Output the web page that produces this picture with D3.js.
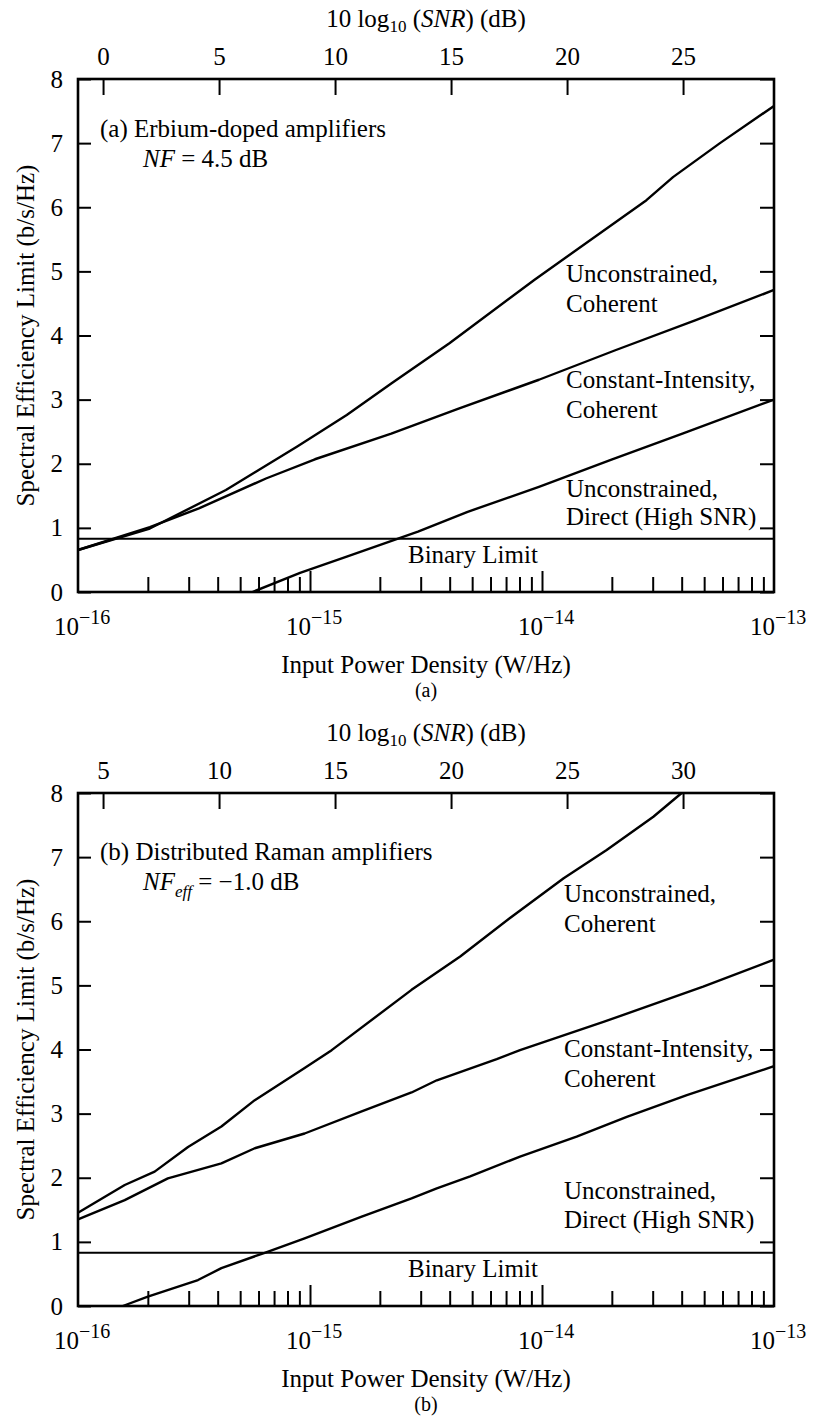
<!DOCTYPE html>
<html>
<head>
<meta charset="utf-8">
<script src="https://cdn.jsdelivr.net/npm/d3@7"></script>
<style>
  body { margin: 0; background: #fff; }
  text { font-family: "Liberation Serif", "Times New Roman", serif; fill: #000; }
</style>
</head>
<body>
<div id="chart"></div>
<script>
// ---- data: [input power density (W/Hz), spectral efficiency (b/s/Hz)]
var ucCoherentA = [[1e-16,0.655],[2.04e-16,0.99],[4.34e-16,1.59],[8.81e-16,2.27],[1.44e-15,2.76],
  [2.24e-15,3.25],[3.99e-15,3.88],[9.29e-15,4.87],[2.82e-14,6.11],[3.67e-14,6.47],[5.85e-14,7.0],[1e-13,7.58]];
var ciCoherentA = [[1e-16,0.655],[2.04e-16,1.01],[3.32e-16,1.305],[6.46e-16,1.77],[1.05e-15,2.07],
  [2.24e-15,2.47],[4.37e-15,2.86],[9.7e-15,3.31],[2.07e-14,3.77],[4.6e-14,4.24],[1e-13,4.71]];
var ucDirectA = [[5.65e-16,0],[9.06e-16,0.3],[1.44e-15,0.55],[2.92e-15,0.94],[4.78e-15,1.25],
  [9.7e-15,1.64],[1.98e-14,2.06],[4.03e-14,2.47],[1e-13,3.0]];

var ucCoherentB = [[1e-16,1.455],[1.59e-16,1.887],[2.14e-16,2.095],[2.98e-16,2.48],[4.15e-16,2.8],
  [5.78e-16,3.21],[9.48e-16,3.71],[1.24e-15,3.99],[2.74e-15,4.93],[4.44e-15,5.45],[7.28e-15,6.05],
  [1.24e-14,6.67],[1.9e-14,7.11],[3.02e-14,7.63],[4.0e-14,8.0]];
var ciCoherentB = [[1e-16,1.35],[1.59e-16,1.65],[2.44e-16,1.99],[4.15e-16,2.225],[5.78e-16,2.46],
  [9.48e-16,2.69],[1.66e-15,3.03],[2.74e-15,3.33],[3.52e-15,3.52],[6.38e-15,3.85],[8.04e-15,3.99],
  [1.84e-14,4.43],[4.95e-14,4.98],[1e-13,5.4]];
var ucDirectB = [[1.56e-16,0],[2.0e-16,0.145],[3.29e-16,0.405],[4.15e-16,0.59],[6.38e-16,0.83],
  [9.48e-16,1.055],[1.66e-15,1.39],[2.74e-15,1.68],[3.52e-15,1.835],[4.9e-15,2.02],[8.04e-15,2.33],
  [1.41e-14,2.64],[2.32e-14,2.95],[4.21e-14,3.29],[1e-13,3.74]];

var binaryLimit = 0.83;
var powerDomain = [1e-16, 1e-13];
var effTicks = [0, 1, 2, 3, 4, 5, 6, 7, 8];
var decadeTicks = [1e-16, 1e-15, 1e-14, 1e-13];
var decadeLabels = ["\u221216", "\u221215", "\u221214", "\u221213"];
var snrDomainA = [-1.08, 28.92], snrTicksA = [0, 5, 10, 15, 20, 25];
var snrDomainB = [3.92, 33.92], snrTicksB = [5, 10, 15, 20, 25, 30];

// ------------------------
var W = 814, H = 1416;
var fs = 25;
var left = 78, width = 696, height = 513;

var svg = d3.select("#chart").append("svg")
  .attr("width", W)
  .attr("height", H);
svg.append("rect").attr("width", W).attr("height", H).attr("fill", "#fff");

function drawPanel(p){
  var g = svg.append("g").attr("transform", "translate(" + left + "," + p.top + ")");

  var x = d3.scaleLog().domain(powerDomain).range([0, width]);
  var y = d3.scaleLinear().domain([0, 8]).range([height, 0]);
  var snr = d3.scaleLinear().domain(p.snrDomain).range([0, width]);

  // left axis, ticks pointing in
  var ay = g.append("g").call(d3.axisLeft(y).tickValues(effTicks).tickSizeInner(-13).tickSizeOuter(0).tickPadding(15));
  // right axis
  var ay2 = g.append("g").attr("transform", "translate(" + width + ",0)")
    .call(d3.axisRight(y).tickValues(effTicks).tickSizeInner(-14).tickSizeOuter(0).tickFormat(""));
  // top SNR axis
  var ax2 = g.append("g").call(d3.axisTop(snr).tickValues(p.snrTicks).tickSizeInner(-16).tickSizeOuter(0).tickPadding(14));
  // bottom log axis, minor and decade ticks
  var minor = x.ticks().filter(function(v){ return decadeTicks.indexOf(v) < 0; });
  var ax = g.append("g").attr("transform", "translate(0," + height + ")")
    .call(d3.axisBottom(x).tickValues(minor).tickSizeInner(-15).tickSizeOuter(0).tickFormat(""));
  var axM = g.append("g").attr("transform", "translate(0," + height + ")")
    .call(d3.axisBottom(x).tickValues(decadeTicks.slice(1, 3)).tickSizeInner(-21).tickSizeOuter(0).tickFormat(""));

  [ay, ay2, ax2, ax, axM].forEach(function(a){
    a.select(".domain").remove();
    a.selectAll("line").attr("stroke", "#000").attr("stroke-width", 2);
    a.selectAll("text").attr("font-size", fs).attr("font-family", "Liberation Serif, serif");
  });

  // decade labels 10^n
  var lab = g.append("g").selectAll("text").data(decadeTicks).enter().append("text")
    .attr("x", function(d){ return x(d) - 24; })
    .attr("y", height + 43)
    .attr("font-size", fs)
    .text("10");
  lab.append("tspan")
    .attr("dy", -11)
    .attr("font-size", 20)
    .text(function(d, i){ return decadeLabels[i]; });

  // frame
  g.append("rect").attr("width", width).attr("height", height)
    .attr("fill", "none").attr("stroke", "#000").attr("stroke-width", 2.6);

  // curves
  var line = d3.line()
    .x(function(d){ return x(d[0]); })
    .y(function(d){ return y(d[1]); });
  p.series.forEach(function(s){
    g.append("path").datum(s)
      .attr("d", line)
      .attr("fill", "none")
      .attr("stroke", "#000")
      .attr("stroke-width", 2.4)
      .attr("stroke-linejoin", "round");
  });
  g.append("line")
    .attr("x1", 0).attr("x2", width)
    .attr("y1", y(binaryLimit)).attr("y2", y(binaryLimit))
    .attr("stroke", "#000").attr("stroke-width", 2);

  // curve labels
  p.labels.forEach(function(l){
    g.append("text").attr("x", l[0] - left).attr("y", l[1] - p.top)
      .attr("font-size", fs).text(l[2]);
  });

  // panel title
  g.append("text").attr("x", 100 - left).attr("y", p.titleY - p.top)
    .attr("font-size", fs).text(p.title);
  var nf = g.append("text").attr("x", 143 - left).attr("y", p.titleY + 30 - p.top).attr("font-size", fs);
  nf.append("tspan").attr("font-style", "italic").text("NF");
  if (p.nfSub) {
    nf.append("tspan").attr("font-style", "italic").attr("font-size", 17).attr("dy", 7).text(p.nfSub);
    nf.append("tspan").attr("dy", -7).text(" = " + p.nfValue);
  } else {
    nf.append("tspan").text(" = " + p.nfValue);
  }

  // top axis title
  var tt = g.append("text").attr("x", width / 2).attr("y", -52)
    .attr("text-anchor", "middle").attr("font-size", fs);
  tt.append("tspan").text("10 log");
  tt.append("tspan").attr("font-size", 17).attr("dy", 5).text("10");
  tt.append("tspan").attr("dy", -5).text(" (");
  tt.append("tspan").attr("font-style", "italic").text("SNR");
  tt.append("tspan").text(") (dB)");

  // y title
  g.append("text")
    .attr("transform", "translate(" + (34 - left) + "," + (height / 2) + ") rotate(-90)")
    .attr("text-anchor", "middle").attr("font-size", fs)
    .text("Spectral Efficiency Limit (b/s/Hz)");

  // x title and panel tag
  g.append("text").attr("x", width / 2).attr("y", height + 81)
    .attr("text-anchor", "middle").attr("font-size", fs)
    .text("Input Power Density (W/Hz)");
  g.append("text").attr("x", width / 2).attr("y", height + 105)
    .attr("text-anchor", "middle").attr("font-size", 20)
    .text(p.tag);
}

drawPanel({
  top: 79,
  snrDomain: snrDomainA, snrTicks: snrTicksA,
  series: [ucCoherentA, ciCoherentA, ucDirectA],
  labels: [[566, 282, "Unconstrained,"], [566, 312, "Coherent"],
           [566, 388, "Constant-Intensity,"], [566, 418, "Coherent"],
           [566, 497, "Unconstrained,"], [566, 525, "Direct (High SNR)"],
           [408, 563, "Binary Limit"]],
  title: "(a) Erbium-doped amplifiers", titleY: 137,
  nfValue: "4.5 dB",
  tag: "(a)"
});

drawPanel({
  top: 793,
  snrDomain: snrDomainB, snrTicks: snrTicksB,
  series: [ucCoherentB, ciCoherentB, ucDirectB],
  labels: [[564, 902, "Unconstrained,"], [564, 932, "Coherent"],
           [564, 1057, "Constant-Intensity,"], [564, 1087, "Coherent"],
           [564, 1199, "Unconstrained,"], [564, 1228, "Direct (High SNR)"],
           [408, 1277, "Binary Limit"]],
  title: "(b) Distributed Raman amplifiers", titleY: 860,
  nfSub: "eff", nfValue: "\u22121.0 dB",
  tag: "(b)"
});
</script>
</body>
</html>
